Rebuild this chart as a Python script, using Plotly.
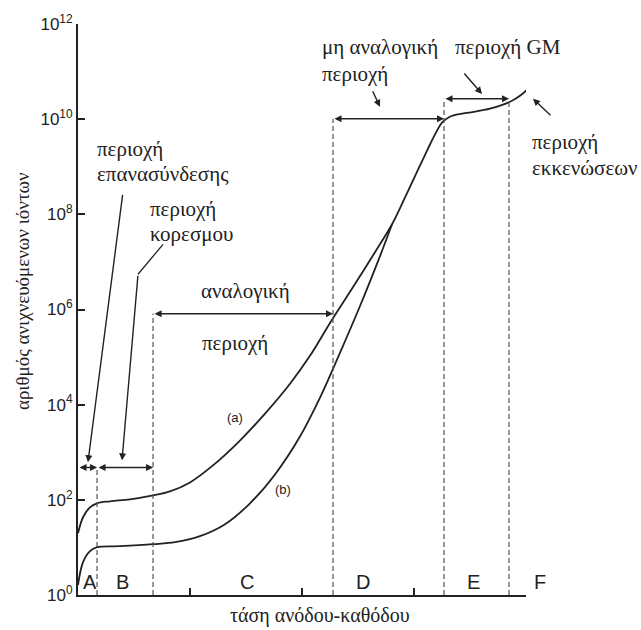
import plotly.graph_objects as go

# ---- data (x: voltage units 0..4, y: log10 of ion count) ----
volt_a = [0, 0.045, 0.107, 0.170, 0.286, 0.464, 0.670, 0.821, 1.000, 1.205, 1.446, 1.670,
          1.893, 2.071, 2.250, 2.473, 2.696, 2.804, 2.920, 3.036, 3.125, 3.196, 3.250,
          3.321, 3.429, 3.545, 3.679, 3.795, 3.875, 3.946, 4.009, 4.045]
logn_a = [1.298, 1.634, 1.843, 1.927, 1.969, 2.010, 2.094, 2.178, 2.366, 2.723, 3.246, 3.812,
          4.440, 5.026, 5.717, 6.534, 7.372, 7.791, 8.356, 8.942, 9.382, 9.717, 9.927,
          10.052, 10.115, 10.157, 10.220, 10.304, 10.387, 10.492, 10.618, 10.702]
volt_b = [0, 0.045, 0.107, 0.170, 0.375, 0.670, 0.866, 1.089, 1.313, 1.536, 1.759, 1.982,
          2.161, 2.339, 2.518, 2.679, 2.804]
logn_b = [0.209, 0.691, 0.921, 1.005, 1.026, 1.068, 1.110, 1.236, 1.487, 1.927, 2.534, 3.330,
          4.147, 5.089, 6.073, 7.016, 7.791]

# region boundaries (dashed lines) and their heights
bound_x = [0.17, 0.67, 2.277, 3.268, 3.848]
bound_top = [2.68, 5.91, 10.01, 10.43, 10.43]

region_letters = ["A", "B", "C", "D", "E", "F"]
region_letter_x = [0.107, 0.393, 1.509, 2.545, 3.527, 4.125]

y_exps = [0, 2, 4, 6, 8, 10, 12]
y_ticktext = ["10<sup>%d</sup>" % e for e in y_exps]
x_ticks = [1, 2, 3, 4]

X_MAX = 4.0
INK = "#222222"
SERIF = "Liberation Serif"
SANS = "Liberation Sans"
LBL = 21

fig = go.Figure()

fig.add_trace(go.Scatter(x=volt_a, y=[10 ** v for v in logn_a], mode="lines",
                         line=dict(color=INK, width=1.8, shape="spline", smoothing=1.0),
                         cliponaxis=False, showlegend=False, hoverinfo="skip"))
fig.add_trace(go.Scatter(x=volt_b, y=[10 ** v for v in logn_b], mode="lines",
                         line=dict(color=INK, width=1.8, shape="spline", smoothing=1.0),
                         cliponaxis=False, showlegend=False, hoverinfo="skip"))

for bx, bt in zip(bound_x, bound_top):
    fig.add_trace(go.Scatter(x=[bx, bx], y=[1, 10 ** bt], mode="lines",
                             line=dict(color="#555555", width=1.2, dash="5px,3px"),
                             showlegend=False, hoverinfo="skip"))

# leader line segment for "κορεσμου"
fig.add_trace(go.Scatter(x=[0.759, 0.536], y=[10 ** 7.37, 10 ** 6.74], mode="lines",
                         line=dict(color=INK, width=1.3), showlegend=False, hoverinfo="skip"))

ann = []

def arrow(x0, y0, x1, y1, both=False):
    ann.append(dict(x=x1, y=y1, ax=x0, ay=y0, xref="x", yref="y", axref="x", ayref="y",
                    text="", showarrow=True, arrowhead=2, arrowsize=1.0, arrowwidth=1.4,
                    arrowcolor=INK, arrowside="end+start" if both else "end",
                    startarrowhead=2, startarrowsize=1.0, standoff=0, startstandoff=0))

# double arrows spanning the regions
arrow(0, 2.68, 0.17, 2.68, both=True)
arrow(0.17, 2.68, 0.67, 2.68, both=True)
arrow(0.67, 5.91, 2.277, 5.91, both=True)
arrow(2.277, 10.01, 3.268, 10.01, both=True)
arrow(3.268, 10.43, 3.848, 10.43, both=True)

# pointer arrows
arrow(0.40, 8.44, 0.089, 2.79)
arrow(0.536, 6.74, 0.393, 2.83)
arrow(2.625, 10.62, 2.696, 10.26)
arrow(3.4375, 10.99, 3.607, 10.53)
# arrow pointing at the end of the curve (outside the x range -> paper x, pixel offsets)
ann.append(dict(x=4.0625 / X_MAX, y=10.43, xref="paper", yref="y", ax=19, ay=18,
                axref="pixel", ayref="pixel", text="", showarrow=True, arrowhead=2,
                arrowsize=1.0, arrowwidth=1.4, arrowcolor=INK, standoff=0))

def label(x, y, text, anchor="left", size=LBL, font=SERIF, outside=False):
    ann.append(dict(x=x / X_MAX if outside else x, y=y, xref="paper" if outside else "x",
                    yref="y", text=text, showarrow=False,
                    xanchor=anchor, yanchor="middle",
                    font=dict(family=font, size=size, color=INK)))

label(0.152, (595 - 147) / 47.75, "περιοχή")
label(0.152, (595 - 173) / 47.75, "επανασύνδεσης")
label(0.625, (595 - 208) / 47.75, "περιοχή")
label(0.625, (595 - 233) / 47.75, "κορεσμου")
label(1.496, 6.39, "αναλογική", anchor="center")
label(1.402, 5.30, "περιοχή", anchor="center")
label(2.161, (595 - 45) / 47.75, "μη αναλογική")
label(2.161, (595 - 72) / 47.75, "περιοχή")
label(3.348, (595 - 45) / 47.75, "περιοχή GM")
label(4.036, (595 - 140) / 47.75, "περιοχή", outside=True)
label(4.036, (595 - 167) / 47.75, "εκκενώσεων", outside=True)
label(1.40, 3.73, "(a)", anchor="center", size=13, font=SANS)
label(1.83, 2.22, "(b)", anchor="center", size=13, font=SANS)

for lt, lx in zip(region_letters, region_letter_x):
    label(lx, 0.27, lt, anchor="center", size=20, font=SANS, outside=(lx > X_MAX))

ann.append(dict(x=0.54, y=(595 - 616) / 573, xref="paper", yref="paper",
                text="τάση ανόδου-καθόδου",
                showarrow=False, xanchor="center", yanchor="middle",
                font=dict(family=SERIF, size=20, color=INK)))
ann.append(dict(x=-0.125, y=(595 - 290) / 573, xref="paper", yref="paper",
                text="αριθμός ανιχνευόμενων ιόντων", textangle=-90,
                showarrow=False, xanchor="center", yanchor="middle",
                font=dict(family=SERIF, size=19, color=INK)))

fig.update_layout(
    width=641, height=630,
    margin=dict(l=78, r=115, t=22, b=35),
    paper_bgcolor="white", plot_bgcolor="white",
    showlegend=False,
    annotations=ann,
    xaxis=dict(range=[0, X_MAX], showgrid=False, zeroline=False, showline=True,
               linecolor=INK, linewidth=2, ticks="inside", ticklen=7, tickwidth=1.5,
               tickcolor=INK, tickvals=x_ticks, showticklabels=False, fixedrange=True),
    yaxis=dict(type="log", range=[0, 12], showgrid=False, zeroline=False, showline=True,
               linecolor=INK, linewidth=2, ticks="inside", ticklen=7, tickwidth=1.5,
               tickcolor=INK, tickvals=[10 ** e for e in y_exps], ticktext=y_ticktext,
               tickfont=dict(family=SANS, size=17, color=INK), fixedrange=True),
)

fig.write_html("out.html")
